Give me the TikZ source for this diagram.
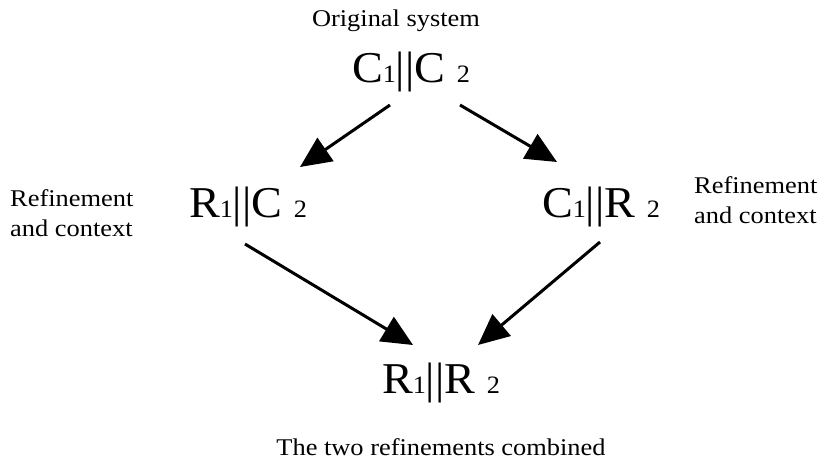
\documentclass[tikz,border=0pt]{standalone}
\usepackage{fontspec}
\setmainfont{Liberation Serif}
\newfontfamily\labelfont[FakeStretch=1.1]{Liberation Serif}
\newfontfamily\termfont[FakeStretch=1.05]{Liberation Serif}
\usetikzlibrary{arrows.meta}
% a parallel composition of two components, with small baseline indices
\newcommand{\parcomp}[4]{{\termfont\fontsize{44}{48}\selectfont #1{\fontsize{25}{27}\selectfont #2}||#3 {\fontsize{25}{27}\selectfont #4}}}
\tikzset{
  term/.style={inner sep=0pt, anchor=base},
  caption/.style={inner sep=0pt, font=\labelfont\fontsize{24}{30}\selectfont},
  refarrow/.style={line width=3pt, -{Triangle[length=31pt,width=28pt]}}
}
\begin{document}
\begin{tikzpicture}[x=1pt,y=-1pt]
  \useasboundingbox (0,0) rectangle (818,461);

  \node[caption, anchor=base] (orig) at (396,26) {Original system};
  \node[term] (top) at (411,82) {\parcomp{C}{1}{C}{2}};
  \node[term] (left) at (248,217) {\parcomp{R}{1}{C}{2}};
  \node[term] (right) at (601,217) {\parcomp{C}{1}{R}{2}};
  \node[term] (bottom) at (441,393) {\parcomp{R}{1}{R}{2}};

  % multi-line notes are placed by the baseline of their last line
  \node[caption, anchor=base west, align=left] (lnote) at (10,236) {Refinement\\and context};
  \node[caption, anchor=base west, align=left] (rnote) at (694,223) {Refinement\\and context};
  \node[caption, anchor=base] (comb) at (441,455) {The two refinements combined};

  \draw[refarrow] ([shift={(-21,23)}]top.base) -- ([shift={(52,-50)}]left.base);
  \draw[refarrow] ([shift={(49,23)}]top.base) -- ([shift={(-44,-55)}]right.base);
  \draw[refarrow] ([shift={(-3,27)}]left.base) -- ([shift={(-28,-48)}]bottom.base);
  \draw[refarrow] ([shift={(-1,25)}]right.base) -- ([shift={(37,-48)}]bottom.base);
\end{tikzpicture}
\end{document}
